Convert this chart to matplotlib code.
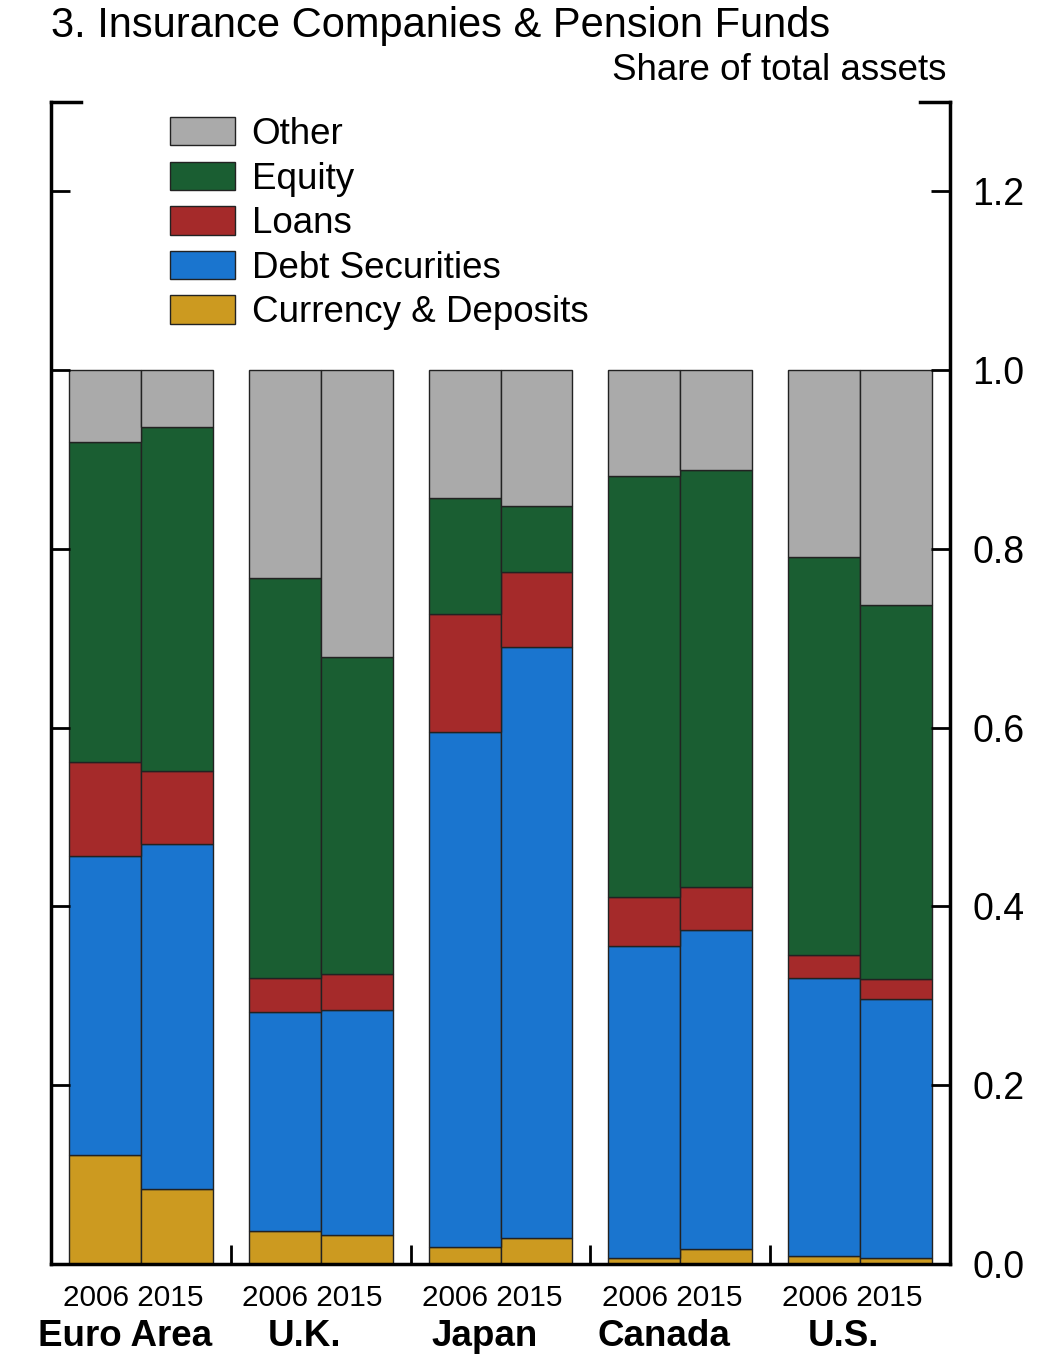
import numpy as np
import matplotlib.pyplot as plt
from matplotlib.patches import Patch

plt.rcParams['font.family'] = ['Liberation Sans', 'DejaVu Sans']

countries = ["Euro Area", "U.K.", "Japan", "Canada", "U.S."]
years = ["2006", "2015"]

# cumulative tops, order: 2006, 2015 for each country
currency = [0.122, 0.084, 0.037, 0.032, 0.019, 0.029, 0.007, 0.017, 0.009, 0.007]
debt_top = [0.457, 0.470, 0.282, 0.284, 0.595, 0.690, 0.356, 0.374, 0.320, 0.296]
loans_top = [0.562, 0.552, 0.320, 0.324, 0.727, 0.774, 0.411, 0.422, 0.346, 0.319]
equity_top = [0.920, 0.936, 0.768, 0.679, 0.857, 0.848, 0.882, 0.888, 0.791, 0.737]
total = [1.0] * 10

names = ["Currency & Deposits", "Debt Securities", "Loans", "Equity", "Other"]
colors = ["#CC9A20", "#1A75CF", "#A52A2A", "#1A5E32", "#AAAAAA"]

tops = np.array([currency, debt_top, loans_top, equity_top, total])
bottoms = np.vstack([np.zeros(10), tops[:-1]])

fig = plt.figure(figsize=(10.46, 13.56), dpi=100)
ax = fig.add_axes([51/1046, 92/1356, 899/1046, 1162/1356])

w = 0.4
x = []
for i in range(len(countries)):
    x += [i - w/2, i + w/2]
x = np.array(x)

for k in range(5):
    ax.bar(x, tops[k] - bottoms[k], bottom=bottoms[k], width=w,
           color=colors[k], edgecolor="#222222", linewidth=1.0)

ax.set_xlim(-0.5, 4.5)
ax.set_ylim(0, 1.3)
ax.set_yticks(np.arange(0, 1.21, 0.2))
ax.set_yticklabels(["%.1f" % v for v in np.arange(0, 1.21, 0.2)])
ax.yaxis.tick_right()
ax.tick_params(axis='y', which='both', left=True, right=True, direction='in',
               length=14, width=2, labelsize=27, pad=16)
ax.set_xticks([0.5, 1.5, 2.5, 3.5])
ax.set_xticklabels([])
ax.tick_params(axis='x', direction='in', length=14, width=2, bottom=True, top=False)
ax.spines['top'].set_visible(False)
for s in ['left', 'right', 'bottom']:
    ax.spines[s].set_linewidth(2.5)

# short corner marks at the top
ax.plot([0, 0.033], [1, 1], transform=ax.transAxes, color='black', lw=2.5, clip_on=False)
ax.plot([0.967, 1], [1, 1], transform=ax.transAxes, color='black', lw=2.5, clip_on=False)

for i, c in enumerate(countries):
    ax.text(i - 0.045, -0.029, " ".join(years), ha='center', va='center', fontsize=21.4,
            transform=ax.get_xaxis_transform())
    ax.text(i - 0.09, -0.0625, c, ha='center', va='center', fontsize=26.5,
            fontweight='bold', transform=ax.get_xaxis_transform())

handles = [Patch(facecolor=colors[k], edgecolor="#222222", label=names[k]) for k in range(4, -1, -1)]
fig.legend(handles=handles, loc='upper left', bbox_to_anchor=(170/1046, 1 - 117/1356),
           frameon=False, fontsize=26.5, handlelength=1.76, handleheight=0.81,
           labelspacing=0.26, handletextpad=0.46, borderpad=0, borderaxespad=0)

fig.text(51/1046, 1 - 26/1356, "3. Insurance Companies & Pension Funds", fontsize=30,
         ha='left', va='center')
fig.text(946/1046, 1 - 71/1356, "Share of total assets", fontsize=26.5,
         ha='right', va='center')

fig.savefig("out.png", dpi=100)
